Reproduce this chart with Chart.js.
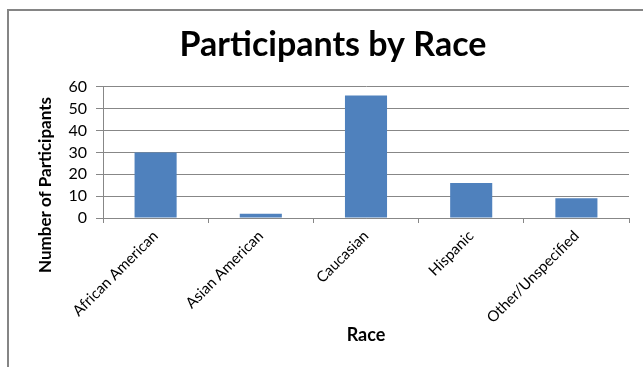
<!DOCTYPE html>
<html>
<head>
<meta charset="utf-8">
<title>Participants by Race</title>
<script src="https://cdn.jsdelivr.net/npm/chart.js@4.4.0/dist/chart.umd.min.js"></script>
<style>
  html, body { margin: 0; padding: 0; background: #fff; }
  #wrap { width: 643px; height: 367px; }
</style>
</head>
<body>
<div id="wrap"><canvas id="raceChart" width="643" height="367"></canvas></div>
<script>
// Participants by race
var races = ['African American', 'Asian American', 'Caucasian', 'Hispanic', 'Other/Unspecified'];
var participants = [30, 2, 56, 16, 9];
var yTicks = [0, 10, 20, 30, 40, 50, 60];
var yTitle = 'Number of Participants';

var fontFamily = 'Lato, "Open Sans", sans-serif';
var gridColor = '#878787';

// grey frame along the top and left edge
var framePlugin = {
    id: 'frame',
    beforeDraw: function (chart) {
        var c = chart.ctx;
        c.save();
        c.strokeStyle = '#858585';
        c.lineWidth = 2;
        c.beginPath();
        c.moveTo(8, chart.height);
        c.lineTo(8, 10);
        c.lineTo(chart.width, 10);
        c.stroke();
        c.restore();
    }
};

// y axis title sits a bit lower than the axis middle
var yTitlePlugin = {
    id: 'yTitle',
    afterDraw: function (chart) {
        var c = chart.ctx;
        c.save();
        c.translate(46, 185);
        c.rotate(-Math.PI / 2);
        c.font = 'bold 17px ' + fontFamily;
        c.fillStyle = '#000';
        c.textAlign = 'center';
        c.textBaseline = 'middle';
        c.fillText(yTitle, 0, 0);
        c.restore();
    }
};

var ctx = document.getElementById('raceChart').getContext('2d');
var raceChart = new Chart(ctx, {
    type: 'bar',
    data: {
        labels: races,
        datasets: [{
            label: 'Participants',
            data: participants,
            backgroundColor: '#4F81BD',
            barPercentage: 0.4,
            categoryPercentage: 1.0
        }]
    },
    options: {
        responsive: false,
        animation: false,
        layout: {
            padding: { left: 37, right: 14, top: 10, bottom: 20 }
        },
        plugins: {
            legend: { display: false },
            tooltip: { enabled: false },
            title: {
                display: true,
                text: 'Participants by Race',
                color: '#000',
                font: { family: fontFamily, size: 34, weight: 'bold' },
                padding: { top: 15, bottom: 21 }
            }
        },
        scales: {
            x: {
                grid: {
                    drawOnChartArea: false,
                    drawTicks: true,
                    tickLength: 5,
                    color: gridColor
                },
                border: { color: gridColor },
                ticks: {
                    color: '#000',
                    font: { family: fontFamily, size: 15 },
                    minRotation: 45,
                    maxRotation: 45,
                    autoSkip: false,
                    padding: 4
                },
                title: {
                    display: true,
                    text: 'Race',
                    color: '#000',
                    font: { family: fontFamily, size: 18, weight: 'bold' },
                    padding: { top: 0, bottom: 1 }
                },
                afterFit: function (scale) { scale.height = 129; }
            },
            y: {
                min: 0,
                max: 60,
                afterBuildTicks: function (scale) {
                    scale.ticks = yTicks.map(function (v) { return { value: v }; });
                },
                grid: {
                    color: gridColor,
                    tickLength: 7
                },
                border: { color: gridColor },
                ticks: {
                    color: '#000',
                    font: { family: fontFamily, size: 16, lineHeight: 1 },
                    autoSkip: false,
                    padding: 9
                },
                afterFit: function (scale) { scale.width = 66; }
            }
        }
    },
    plugins: [framePlugin, yTitlePlugin]
});
</script>
</body>
</html>
